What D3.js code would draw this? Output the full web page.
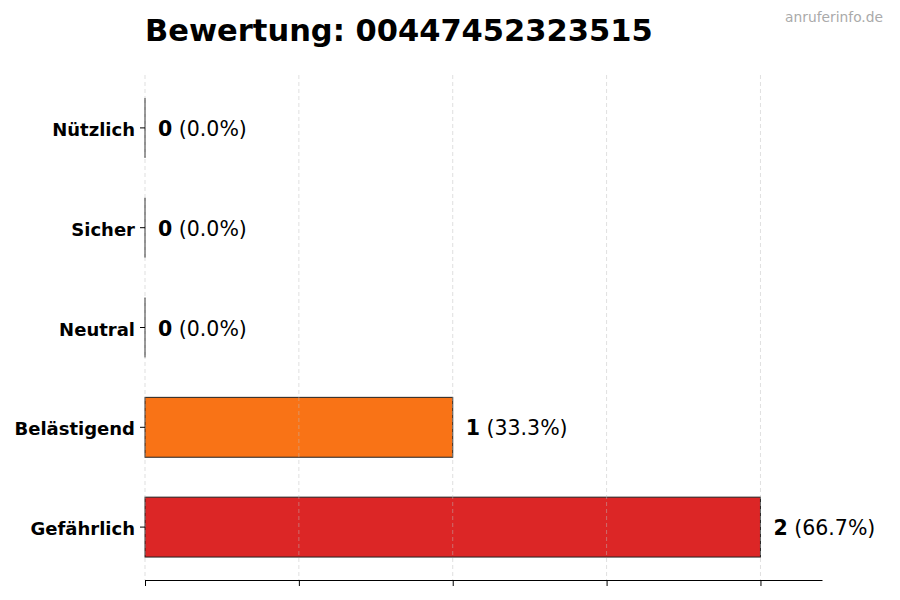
<!DOCTYPE html>
<html>
<head>
<meta charset="utf-8">
<script src="https://cdn.jsdelivr.net/npm/d3@7"></script>
<style>
  body { margin: 0; background: #fff; }
  text { font-family: "DejaVu Sans", sans-serif; }
</style>
</head>
<body>
<div id="chart"></div>
<script>
// chart data
var categories = ["Nützlich", "Sicher", "Neutral", "Belästigend", "Gefährlich"];
var counts = [0, 0, 0, 1, 2];
var percents = ["0.0%", "0.0%", "0.0%", "33.3%", "66.7%"];
var colors = ["#22c55e", "#3b82f6", "#9ca3af", "#f97316", "#dc2626"];
var xTicks = [0, 0.5, 1, 1.5, 2];

var width = 900, height = 600;

var svg = d3.select("#chart")
    .append("svg")
    .attr("width", width)
    .attr("height", height);

var x = d3.scaleLinear().domain([0, 2.2]).range([145, 822]);
var y = d3.scaleBand().domain(categories).range([78, 577])
    .paddingInner(0.4).paddingOuter(0.2);

// bars
svg.append("g")
    .selectAll("rect")
    .data(categories)
    .enter()
    .append("rect")
    .attr("x", x(0))
    .attr("y", function(d) { return y(d); })
    .attr("width", function(d, i) { return x(counts[i]) - x(0); })
    .attr("height", y.bandwidth())
    .style("fill", function(d, i) { return colors[i]; })
    .style("stroke", "#222")
    .style("stroke-width", 1);

// zero-width bars still show their edge
svg.append("g")
    .selectAll("line")
    .data(categories.filter(function(d, i) { return counts[i] === 0; }))
    .enter()
    .append("line")
    .attr("x1", x(0))
    .attr("x2", x(0))
    .attr("y1", function(d) { return y(d); })
    .attr("y2", function(d) { return y(d) + y.bandwidth(); })
    .style("stroke", "#222")
    .style("stroke-width", 1);

// dashed vertical grid (drawn faintly over bars)
svg.append("g")
    .selectAll("line")
    .data(xTicks)
    .enter()
    .append("line")
    .attr("x1", function(d) { return x(d); })
    .attr("x2", function(d) { return x(d); })
    .attr("y1", 75)
    .attr("y2", 580)
    .style("stroke", "#bbbbbb")
    .style("stroke-opacity", 0.6)
    .style("stroke-width", 0.8)
    .style("stroke-dasharray", "4,3");

// value labels
var labels = svg.append("g")
    .selectAll("text")
    .data(categories)
    .enter()
    .append("text")
    .attr("x", function(d, i) { return x(counts[i]) + 13; })
    .attr("y", function(d) { return y(d) + y.bandwidth() / 2 + 1; })
    .attr("dy", "0.35em")
    .style("font-size", "20.5px")
    .style("fill", "#000");
labels.append("tspan")
    .style("font-weight", "bold")
    .text(function(d, i) { return counts[i]; });
labels.append("tspan")
    .text(function(d, i) { return " (" + percents[i] + ")"; });

// x axis without labels
var xAxis = svg.append("g")
    .attr("transform", "translate(0,580)")
    .call(d3.axisBottom(x).tickValues(xTicks).tickFormat("").tickSize(6).tickSizeOuter(0));
xAxis.select(".domain").style("stroke", "#000");

// y axis
var yAxis = svg.append("g")
    .attr("transform", "translate(145,0)")
    .call(d3.axisLeft(y).tickSize(5).tickPadding(5));
yAxis.select(".domain").remove();
yAxis.selectAll("text")
    .attr("dy", "0.45em")
    .style("font-size", "18px")
    .style("font-weight", "bold")
    .style("fill", "#000");

// title
svg.append("text")
    .attr("x", 145)
    .attr("y", 41)
    .style("font-size", "30.5px")
    .style("font-weight", "bold")
    .text("Bewertung: 00447452323515");

// watermark
svg.append("text")
    .attr("x", 883)
    .attr("y", 22)
    .attr("text-anchor", "end")
    .style("font-size", "13.8px")
    .style("fill", "#aaaaaa")
    .text("anruferinfo.de");
</script>
</body>
</html>
